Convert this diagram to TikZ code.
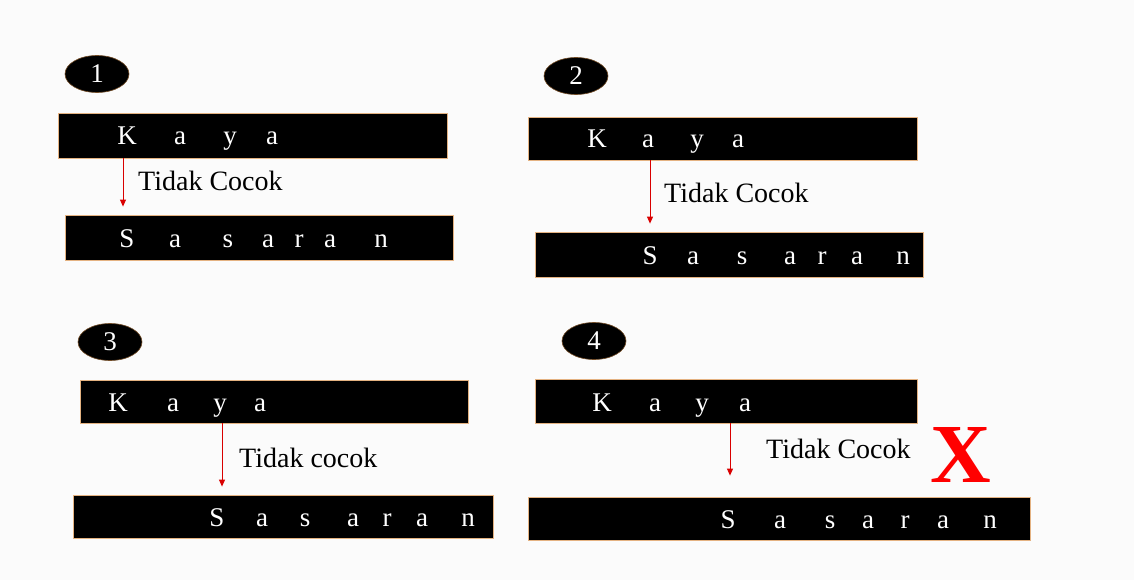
\documentclass[tikz,border=0pt]{standalone}
\usepackage{fontspec}
\setmainfont{Liberation Serif}
\newfontfamily\seriffont{Liberation Serif}
\usetikzlibrary{fit,arrows.meta,shapes.geometric}

\tikzset{
  bar/.style={draw=brown!70!orange!60, line width=0.8pt, fill=black, inner sep=0pt, rectangle},
  badge/.style={ellipse, fill=black, draw=brown!60!black, line width=0.6pt, minimum width=64pt, minimum height=37pt, inner sep=0pt, text=white, font=\seriffont\fontsize{27}{27}\selectfont},
  ltr/.style={text=white, anchor=base, inner sep=0pt, font=\seriffont\fontsize{27}{27}\selectfont},
  lbl/.style={anchor=west, inner sep=0pt, font=\seriffont\fontsize{28}{28}\selectfont},
  ptr/.style={draw=red!85!black, line width=0.9pt, -{Triangle[width=6pt,length=7pt]}, shorten >=8pt},
}

\begin{document}
\begin{tikzpicture}[x=1pt,y=-1pt]
  % page
  \fill[white!97!gray] (0,0) rectangle (1134,580);
  \useasboundingbox (0,0) rectangle (1134,580);

  % ---------- step 1 ----------
  \node[badge] (n1) at (97,74) {1};
  \node[bar, fit={(58,113) (447,158)}] (kaya1) {};
  \node[bar, fit={(65,215) (453,260)}] (sas1) {};
  \foreach \x/\c [count=\i] in {127/K,180/a,230/y,272/a}
    \node[ltr] (k1\i) at (\x,145) {\c};
  \foreach \x/\c [count=\i] in {127/S,175/a,228/s,268/a,299/r,330/a,381/n}
    \node[ltr] (s1\i) at (\x,247) {\c};
  \coordinate (a1) at (123,0);
  \draw[ptr] (kaya1.south -| a1) -- (sas1.north -| a1);
  \node[lbl] (t1) at (138,181) {Tidak Cocok};

  % ---------- step 2 ----------
  \node[badge] (n2) at (576,76) {2};
  \node[bar, fit={(528,117) (917,160)}] (kaya2) {};
  \node[bar, fit={(535,232) (923,277)}] (sas2) {};
  \foreach \x/\c [count=\i] in {597/K,648/a,697/y,738/a}
    \node[ltr] (k2\i) at (\x,148) {\c};
  \foreach \x/\c [count=\i] in {650/S,693/a,742/s,790/a,822/r,857/a,903/n}
    \node[ltr] (s2\i) at (\x,264) {\c};
  \coordinate (a2) at (650,0);
  \draw[ptr] (kaya2.south -| a2) -- (sas2.north -| a2);
  \node[lbl] (t2) at (664,193) {Tidak Cocok};

  % ---------- step 3 ----------
  \node[badge] (n3) at (110,342) {3};
  \node[bar, fit={(80,380) (468,423)}] (kaya3) {};
  \node[bar, fit={(73,495) (493,538)}] (sas3) {};
  \foreach \x/\c [count=\i] in {118/K,173/a,220/y,260/a}
    \node[ltr] (k3\i) at (\x,411) {\c};
  \foreach \x/\c [count=\i] in {217/S,262/a,305/s,353/a,387/r,422/a,468/n}
    \node[ltr] (s3\i) at (\x,526) {\c};
  \coordinate (a3) at (222,0);
  \draw[ptr] (kaya3.south -| a3) -- (sas3.north -| a3);
  \node[lbl] (t3) at (239,458) {Tidak cocok};

  % ---------- step 4 ----------
  \node[badge] (n4) at (594,341) {4};
  \node[bar, fit={(535,379) (917,423)}] (kaya4) {};
  \node[bar, fit={(528,497) (1030,540)}] (sas4) {};
  \foreach \x/\c [count=\i] in {602/K,655/a,702/y,745/a}
    \node[ltr] (k4\i) at (\x,411) {\c};
  \foreach \x/\c [count=\i] in {728/S,780/a,830/s,868/a,905/r,943/a,990/n}
    \node[ltr] (s4\i) at (\x,528) {\c};
  \coordinate (a4) at (730,0);
  \draw[ptr, shorten >=21pt] (kaya4.south -| a4) -- (sas4.north -| a4);
  \node[lbl] (t4) at (766,449) {Tidak Cocok};
  \node[text=red, anchor=base, inner sep=0pt, font=\seriffont\bfseries\fontsize{84}{84}\selectfont] (cross) at (961,482) {X};
\end{tikzpicture}
\end{document}
